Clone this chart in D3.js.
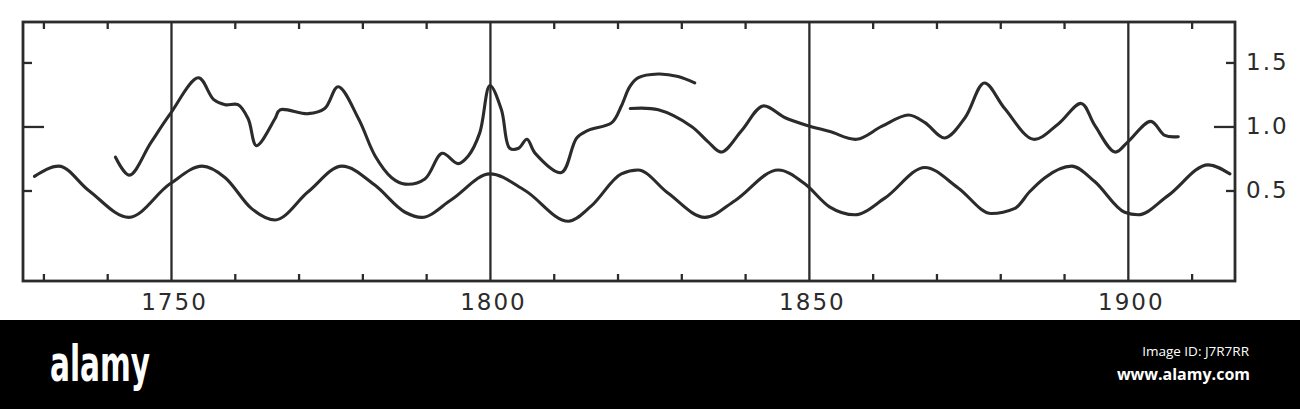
<!DOCTYPE html>
<html>
<head>
<meta charset="utf-8">
<script src="https://cdn.jsdelivr.net/npm/d3@7"></script>
<style>
  body { margin: 0; background: #fff; }
  svg { display: block; }
</style>
</head>
<body>
<div id="chart"></div>
<script>
// lower (smooth) curve
var lowerYears = [1728.6, 1732.4, 1737.1, 1743.4, 1749.8, 1754.9, 1758.5, 1762.6, 1766.3, 1771.5,
    1776.8, 1782.0, 1786.7, 1789.3, 1794.0, 1800.0, 1805.5, 1812.3, 1815.9, 1820.6,
    1823.2, 1827.9, 1833.7, 1838.4, 1845.2, 1849.4, 1853.3, 1857.2, 1861.9, 1868.2,
    1873.4, 1878.6, 1882.3, 1884.6, 1887.0, 1891.2, 1894.8, 1899.5, 1901.6, 1906.3,
    1912.6, 1916.0];
var lowerValues = [0.61, 0.69, 0.50, 0.29, 0.55, 0.69, 0.60, 0.36, 0.27, 0.49,
    0.69, 0.54, 0.33, 0.29, 0.43, 0.63, 0.50, 0.26, 0.38, 0.63,
    0.66, 0.48, 0.29, 0.42, 0.66, 0.55, 0.37, 0.31, 0.44, 0.68,
    0.52, 0.32, 0.36, 0.49, 0.60, 0.69, 0.57, 0.33, 0.31, 0.46,
    0.70, 0.63];

// upper curve, first piece (to ~1832)
var upperAYears = [1741.3, 1743.5, 1746.8, 1749.9, 1754.3, 1756.7, 1758.5, 1760.5, 1762.1, 1763.4,
    1766.3, 1767.1, 1771.5, 1774.1, 1776.2, 1779.4, 1782.0, 1784.6, 1786.7, 1789.8,
    1792.5, 1795.0, 1796.6, 1798.4, 1800.0, 1801.8, 1803.1, 1804.5, 1805.8, 1807.1,
    1811.2, 1813.6, 1815.4, 1819.1, 1820.6, 1821.9, 1823.2, 1826.4, 1829.5, 1832.1];
var upperAValues = [0.76, 0.62, 0.87, 1.10, 1.38, 1.21, 1.17, 1.17, 1.06, 0.85,
    1.06, 1.13, 1.10, 1.14, 1.31, 1.06, 0.77, 0.60, 0.55, 0.59,
    0.79, 0.71, 0.77, 0.95, 1.32, 1.13, 0.83, 0.83, 0.90, 0.79,
    0.64, 0.91, 0.97, 1.03, 1.16, 1.31, 1.38, 1.41, 1.39, 1.34];

// upper curve, second piece (from ~1822)
var upperBYears = [1822.0, 1826.4, 1831.6, 1834.2, 1836.3, 1839.5, 1842.8, 1846.2, 1849.6, 1853.3,
    1857.5, 1861.4, 1865.6, 1868.2, 1871.3, 1874.5, 1877.5, 1880.7, 1885.2, 1889.1,
    1892.7, 1894.8, 1898.0, 1900.0, 1903.6, 1905.8, 1907.9];
var upperBValues = [1.14, 1.13, 1.00, 0.88, 0.80, 0.97, 1.16, 1.07, 1.01, 0.96,
    0.90, 1.00, 1.09, 1.03, 0.91, 1.07, 1.34, 1.14, 0.90, 1.02,
    1.18, 1.01, 0.80, 0.88, 1.04, 0.93, 0.92];

var majorYears = [1750, 1800, 1850, 1900];
var minorYears = [1730, 1740, 1760, 1770, 1780, 1790, 1810, 1820, 1830, 1840,
    1860, 1870, 1880, 1890, 1910];
var yTicks = [0.5, 1.0, 1.5];
var yTickLabels = ['0.5', '1.0', '1.5'];

var width = 1300;
var height = 409;
var plotLeft = 23, plotRight = 1235, plotTop = 22, plotBottom = 281;
var ink = '#2b2b2b';

var svg = d3.select('#chart').append('svg')
    .attr('width', width)
    .attr('height', height);

var x = d3.scaleLinear().domain([1726.8, 1916.8]).range([plotLeft, plotRight]);
var y = d3.scaleLinear().domain([-0.207, 1.816]).range([plotBottom, plotTop]);

// minor ticks, bottom and top, pointing inward
svg.append('g')
    .attr('transform', 'translate(0,' + plotBottom + ')')
    .call(d3.axisBottom(x).tickValues(minorYears).tickSizeInner(-7).tickSizeOuter(0).tickFormat(''))
    .call(function(g) { g.select('.domain').remove(); });
svg.append('g')
    .attr('transform', 'translate(0,' + plotTop + ')')
    .call(d3.axisTop(x).tickValues(minorYears).tickSizeInner(-7).tickSizeOuter(0).tickFormat(''))
    .call(function(g) { g.select('.domain').remove(); });

// full-height lines at the half centuries, with labels
var xAxis = svg.append('g')
    .attr('transform', 'translate(0,' + plotBottom + ')')
    .call(d3.axisBottom(x).tickValues(majorYears).tickSizeInner(-(plotBottom - plotTop)).tickSizeOuter(0).tickFormat(d3.format('d')));
xAxis.select('.domain').remove();
xAxis.selectAll('text')
    .attr('y', 29)
    .attr('dy', 0)
    .attr('x', 3)
    .style('font-family', 'DejaVu Sans, sans-serif')
    .style('font-size', '23px')
    .style('letter-spacing', '2px')
    .attr('fill', ink);

// y ticks: left and right, inward; 1.0 is longer
var tickLen = function(d) { return d === 1.0 ? 21 : 9; };

var yLeft = svg.append('g')
    .attr('transform', 'translate(' + plotLeft + ',0)')
    .call(d3.axisLeft(y).tickValues(yTicks).tickSizeOuter(0).tickFormat(''));
yLeft.select('.domain').remove();
yLeft.selectAll('.tick line').attr('x2', function(d) { return tickLen(d); });

var yRight = svg.append('g')
    .attr('transform', 'translate(' + plotRight + ',0)')
    .call(d3.axisRight(y).tickValues(yTicks).tickSizeInner(-9).tickSizeOuter(0).tickPadding(11)
        .tickFormat(function(d, i) { return yTickLabels[i]; }));
yRight.select('.domain').remove();
yRight.selectAll('.tick line').attr('x2', function(d) { return -tickLen(d); });
yRight.selectAll('text')
    .style('font-family', 'DejaVu Sans, sans-serif')
    .style('font-size', '23px')
    .style('letter-spacing', '2px')
    .attr('fill', ink);

svg.selectAll('.tick line')
    .attr('stroke', ink)
    .attr('stroke-width', 2.3);

// frame
svg.append('rect')
    .attr('x', plotLeft)
    .attr('y', plotTop)
    .attr('width', plotRight - plotLeft)
    .attr('height', plotBottom - plotTop)
    .attr('fill', 'none')
    .attr('stroke', ink)
    .attr('stroke-width', 2.8);

var smoothLine = d3.line()
    .x(function(d) { return x(d[0]); })
    .y(function(d) { return y(d[1]); })
    .curve(d3.curveMonotoneX);

var line = d3.line()
    .x(function(d) { return x(d[0]); })
    .y(function(d) { return y(d[1]); })
    .curve(d3.curveCatmullRom.alpha(0.5));

var series = [
    { pts: d3.zip(lowerYears, lowerValues), gen: smoothLine },
    { pts: d3.zip(upperAYears, upperAValues), gen: line },
    { pts: d3.zip(upperBYears, upperBValues), gen: line }
];

svg.selectAll('.curve')
    .data(series)
  .enter().append('path')
    .attr('class', 'curve')
    .attr('d', function(d) { return d.gen(d.pts); })
    .attr('fill', 'none')
    .attr('stroke', ink)
    .attr('stroke-width', 3.1)
    .attr('stroke-linecap', 'round')
    .attr('stroke-linejoin', 'round');

// black credit band
svg.append('rect')
    .attr('x', 0)
    .attr('y', 320)
    .attr('width', width)
    .attr('height', height - 320)
    .attr('fill', '#000');

svg.append('text')
    .attr('transform', 'translate(50,381) scale(1,1.45)')
    .attr('textLength', 100)
    .attr('lengthAdjust', 'spacingAndGlyphs')
    .style('font-family', 'Liberation Sans Narrow, DejaVu Sans Condensed, sans-serif')
    .style('font-weight', 'bold')
    .style('font-size', '34px')
    .attr('fill', '#fff')
    .text('alamy');

svg.append('text')
    .attr('x', 1249)
    .attr('y', 356)
    .attr('text-anchor', 'end')
    .style('font-family', 'Open Sans, Noto Sans, sans-serif')
    .style('font-size', '13.5px')
    .attr('fill', '#fff')
    .text('Image ID: J7R7RR');

svg.append('text')
    .attr('x', 1250)
    .attr('y', 380)
    .attr('text-anchor', 'end')
    .style('font-family', 'Open Sans, Noto Sans, sans-serif')
    .style('font-weight', 'bold')
    .style('font-size', '16px')
    .attr('fill', '#fff')
    .text('www.alamy.com');
</script>
</body>
</html>
